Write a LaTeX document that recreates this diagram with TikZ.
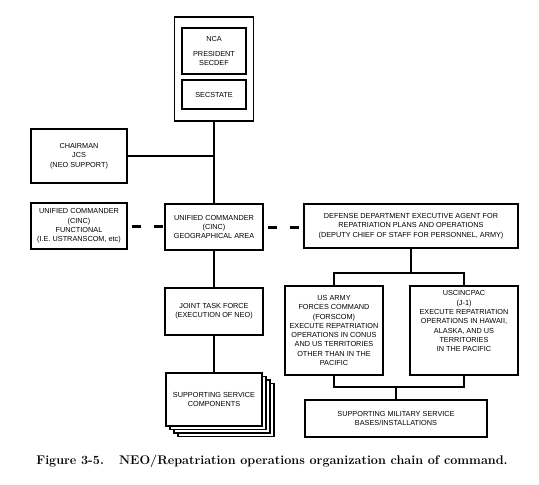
\documentclass[tikz,border=0pt]{standalone}
\usepackage{fontspec}
\setsansfont{Liberation Sans}
\begin{document}
\begin{tikzpicture}[x=1pt,y=-1pt,
  box/.style={draw, line width=1.5pt, fill=white, inner sep=0pt, align=center,
    font=\sffamily\fontsize{7.3}{9.3}\selectfont},
  layer/.style={draw, line width=1.2pt, fill=white, inner sep=0pt},
  link/.style={line width=2pt},
  dashlink/.style={line width=3pt, dash pattern=on 9pt off 13pt, dash phase=18pt}]
\useasboundingbox (0,0) rectangle (539,485);
% NCA group
\node[box, minimum width=79pt, minimum height=104pt] (nca) at (214,69) {};
\node[box, minimum width=64pt, minimum height=46pt] (ncain) at (214,51) {NCA\\[5pt]PRESIDENT\\SECDEF};
\node[box, minimum width=64pt, minimum height=29pt] (secstate) at (214,94.5) {SECSTATE};
% left column
\node[box, minimum width=96pt, minimum height=54pt] (chair) at (79,156) {CHAIRMAN\\JCS\\(NEO SUPPORT)};
\node[box, minimum width=96pt, minimum height=46pt] (func) at (79,226) {UNIFIED COMMANDER\\(CINC)\\FUNCTIONAL\\(I.E. USTRANSCOM, etc)};
% centre column
\node[box, minimum width=98pt, minimum height=46pt] (geo) at (214,227) {UNIFIED COMMANDER\\(CINC)\\GEOGRAPHICAL AREA};
\node[box, minimum width=98pt, minimum height=47pt] (jtf) at (214,311.5) {JOINT TASK FORCE\\(EXECUTION OF NEO)};
\node[layer, minimum width=96pt, minimum height=53pt] (ssc3) at (226,410) {};
\node[layer, minimum width=96pt, minimum height=53pt] (ssc2) at (222,406.5) {};
\node[layer, minimum width=96pt, minimum height=53pt] (ssc1) at (218,403) {};
\node[box, minimum width=96pt, minimum height=53pt] (ssc) at (214,399.5) {SUPPORTING SERVICE\\COMPONENTS};
% right column
\node[box, minimum width=214pt, minimum height=44pt] (dod) at (411,226) {DEFENSE DEPARTMENT EXECUTIVE AGENT FOR\\REPATRIATION PLANS AND OPERATIONS\\(DEPUTY CHIEF OF STAFF FOR PERSONNEL, ARMY)};
\node[box, minimum width=98pt, minimum height=89pt] (army) at (334,330.5) {US ARMY\\FORCES COMMAND\\(FORSCOM)\\EXECUTE REPATRIATION\\OPERATIONS IN CONUS\\AND US TERRITORIES\\OTHER THAN IN THE\\PACIFIC};
\node[box, minimum width=108pt, minimum height=89pt] (pac) at (464,330.5) {USCINCPAC\\(J-1)\\EXECUTE REPATRIATION\\OPERATIONS IN HAWAII,\\ALASKA, AND US\\TERRITORIES\\IN THE PACIFIC\\[9.3pt]};
\node[box, minimum width=182pt, minimum height=37pt] (supmil) at (396,418.5) {SUPPORTING MILITARY SERVICE\\BASES/INSTALLATIONS};
% connectors
\draw[link] (nca.south) -- (nca.south |- geo.north);
\draw[link] (chair.east) -- (nca.south |- chair.east);
\draw[link] (geo.south) -- (geo.south |- jtf.north);
\draw[link] (jtf.south) -- (jtf.south |- ssc.north);
\draw[dashlink] (func.east) -- (func.east -| geo.west);
\draw[dashlink] (geo.east) -- (geo.east -| dod.west);
\coordinate (f1) at (411,273);
\draw[link] (dod.south) -- (f1);
\draw[link] (army.north) |- (f1) -| (pac.north);
\coordinate (f2) at (396,387);
\draw[link] (army.south) |- (f2) -| (pac.south);
\draw[link] (f2) -- (supmil.north);
% caption
\node[font=\bfseries\fontsize{12.6}{14}\selectfont] (cap) at (272,461) {Figure 3-5.\hspace{0.7em} NEO/Repatriation operations organization chain of command.};
\end{tikzpicture}
\end{document}
